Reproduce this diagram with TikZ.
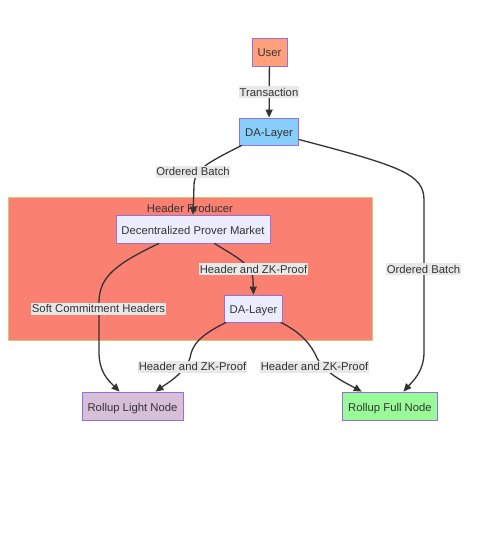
\documentclass[tikz,border=0pt]{standalone}
\usepackage{fontspec}
\setmainfont{Liberation Sans}
\usetikzlibrary{arrows.meta}
\definecolor{mtext}{HTML}{333333}
\definecolor{mborder}{HTML}{9370DB}
\definecolor{mplain}{HTML}{ECECFF}
\definecolor{muser}{HTML}{FFA07A}
\definecolor{mda}{HTML}{87CEFA}
\definecolor{mcluster}{HTML}{FA8072}
\definecolor{mclusterline}{HTML}{D4C67A}
\definecolor{mlight}{HTML}{D8BFD8}
\definecolor{mfull}{HTML}{98FB98}
\definecolor{mlabel}{HTML}{E8E8E8}
\tikzset{
  box/.style={draw=mborder, line width=0.8pt, fill=mplain, text=mtext, minimum height=28pt, inner xsep=5.5pt, text height=10pt, text depth=0pt},
  lbl/.style={fill=mlabel, text=mtext, inner xsep=0.5pt, inner ysep=0pt, text height=10pt, text depth=2pt},
  edge/.style={draw=mtext, line width=1.3pt, -{Triangle[length=8pt,width=7pt]}}
}
\begin{document}
\begin{tikzpicture}[x=1pt, y=-1pt, font=\fontsize{11.3}{13}\selectfont]
 \useasboundingbox[fill=white] (0,0) rectangle (486,534);
 % cluster
 \filldraw[fill=mcluster, draw=mclusterline, line width=0.8pt] (8,197) rectangle (372,340);
 \node[text=mtext, text height=10pt, text depth=0pt, inner ysep=0pt] (title) at (190,207) {Header Producer};
 % nodes
 \node[box, fill=muser, minimum width=35pt] (user) at (269.5,52) {User};
 \node[box, fill=mda, minimum height=27pt] (da1) at (269,131.5) {DA-Layer};
 \node[box] (dpm) at (193,229) {Decentralized Prover Market};
 \node[box, minimum height=27pt] (da2) at (253.5,308.5) {DA-Layer};
 \node[box, fill=mlight] (light) at (132.5,406) {Rollup Light Node};
 \node[box, fill=mfull] (full) at (390,406) {Rollup Full Node};
 % edges
 \draw[edge] (user) -- (da1);
 \draw[edge] (da1.207) .. controls (205,164) and (194,170) .. (194,186) -- (dpm.north);
 \draw[edge] (da1.-15) .. controls (400,166) and (424,174) .. (424,200) -- (424,352) .. controls (424,372) and (412,382) .. (full.47);
 \draw[edge] (dpm.-34) .. controls (236,257) and (252,264) .. (253,280) -- (da2.north);
 \draw[edge] (dpm.203) .. controls (118,263) and (99,276) .. (99,302) -- (99,352) .. controls (99,372) and (108,380) .. (light.132);
 \draw[edge] (da2.207) .. controls (198,336) and (192,346) .. (190,358) .. controls (184,374) and (166,384) .. (light.32);
 \draw[edge] (da2.-27) .. controls (302,333) and (312,346) .. (317,358) .. controls (326,374) and (346,383) .. (full.153);
 % edge labels
 \node[lbl] (ltx) at (269,92.5) {Transaction};
 \node[lbl] (lob1) at (193,172) {Ordered Batch};
 \node[lbl] (lob2) at (423.5,269) {Ordered Batch};
 \node[lbl] (lhz1) at (253.5,269) {Header and ZK-Proof};
 \node[lbl] (lsch) at (98.5,308.5) {Soft Commitment Headers};
 \node[lbl] (lhz2) at (192.5,366.5) {Header and ZK-Proof};
 \node[lbl] (lhz3) at (314.5,366.5) {Header and ZK-Proof};
\end{tikzpicture}
\end{document}
